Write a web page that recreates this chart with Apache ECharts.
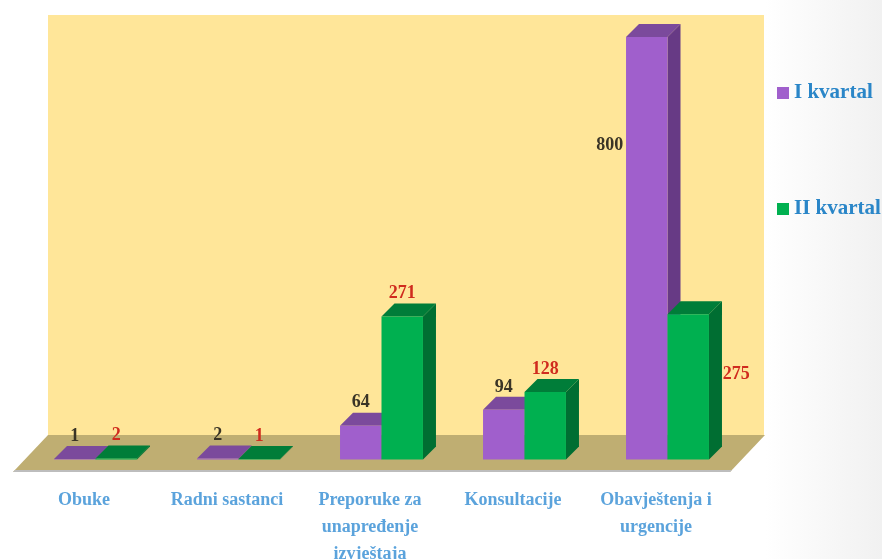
<!DOCTYPE html>
<html>
<head>
<meta charset="utf-8">
<style>html,body{margin:0;padding:0;background:#fff;overflow:hidden}#c{width:882px;height:559px}</style>
<script src="https://cdn.jsdelivr.net/npm/echarts@6/dist/echarts.min.js"></script>
</head>
<body>
<div id="c"></div>
<script>
const categories = ['Obuke', 'Radni sastanci', 'Preporuke za\nunapređenje\nizvještaja', 'Konsultacije', 'Obavještenja i\nurgencije'];
const seriesNames = ['I kvartal', 'II kvartal'];
const kvartal1 = [1, 2, 64, 94, 800];
const kvartal2 = [2, 1, 271, 128, 275];

const chart = echarts.init(document.getElementById('c'), null, {renderer: 'canvas'});
const DX = 13, DY = -13;
const faces = [
  {front: '#A05FCC', top: '#7B4A9C', side: '#673A85', label: '#3A3426'},
  {front: '#00B050', top: '#007D39', side: '#006E32', label: '#D02B1E'}
];
// label anchors that sit away from their bar: [series, category, dx, dy from bar top]
const labelShift = {'0-4': [-37, 108], '1-4': [48, 60]};

function render3d(si) {
  return function (params, api) {
    const i = api.value(0);
    const base = api.coord([i, 0]);
    const top = api.coord([i, api.value(1)]);
    const w = api.size([1, 0])[0] * 0.29;
    const l = base[0] + (si === 0 ? -w : 0), r = l + w, b = base[1], t = top[1];
    const f = faces[si];
    const shift = labelShift[si + '-' + i];
    const lx = (l + r) / 2 + (shift ? shift[0] : 0);
    const ly = t + (shift ? shift[1] : -23);
    return {
      type: 'group',
      children: [
        {type: 'polygon', shape: {points: [[r, t], [r + DX, t + DY], [r + DX, b + DY], [r, b]]}, style: {fill: f.side}},
        {type: 'polygon', shape: {points: [[l, t], [l + DX, t + DY], [r + DX, t + DY], [r, t]]}, style: {fill: f.top}},
        {type: 'rect', shape: {x: l, y: t, width: w, height: b - t}, style: {fill: f.front}},
        {type: 'text', z2: 10, style: {
          text: String(api.value(1)), x: lx, y: ly, align: 'center', verticalAlign: 'middle',
          fill: f.label, font: 'bold 18px "Liberation Serif"'
        }}
      ]
    };
  };
}

chart.setOption({
  animation: false,
  graphic: [
    {type: 'rect', z: -3, shape: {x: 765, y: 0, width: 117, height: 559},
     style: {fill: new echarts.graphic.LinearGradient(0, 0, 1, 0, [{offset: 0, color: '#ffffff'}, {offset: 1, color: '#F1F1F1'}])}},
    {type: 'rect', z: -2, shape: {x: 48, y: 15, width: 716, height: 421}, style: {fill: '#FFE699'}},
    {type: 'polygon', z: -1, shape: {points: [[48, 435], [765, 435], [730, 472], [13, 472]]}, style: {fill: '#BFAE72'}},
    {type: 'polygon', z: -1, shape: {points: [[15, 470], [732, 470], [730, 472], [13, 472]]}, style: {fill: '#BDBDBD'}}
  ],
  grid: {left: 24, width: 715, top: 37, bottom: 99.5, outerBoundsMode: 'none'},
  xAxis: {
    type: 'category', data: categories,
    axisLine: {show: false}, axisTick: {show: false},
    axisLabel: {
      interval: 0, margin: 27, color: '#5BA3DC', fontFamily: 'Liberation Serif', fontWeight: 'bold',
      fontSize: 18, lineHeight: 27, padding: [0, 23, 0, 0], overflow: 'none', verticalAlign: 'top', hideOverlap: false
    }
  },
  yAxis: {type: 'value', min: 0, max: 800, show: false, splitLine: {show: false}},
  legend: {
    orient: 'vertical', left: 772, top: 76, itemGap: 92, itemWidth: 12, itemHeight: 12,
    selectedMode: false, icon: 'rect', data: seriesNames,
    textStyle: {color: '#2A86C8', fontFamily: 'Liberation Serif', fontWeight: 'bold', fontSize: 21, lineHeight: 24}
  },
  series: [
    {name: seriesNames[0], type: 'custom', clip: false, renderItem: render3d(0), itemStyle: {color: faces[0].front},
     encode: {x: 0, y: 1}, data: kvartal1.map((v, i) => [i, v])},
    {name: seriesNames[1], type: 'custom', clip: false, renderItem: render3d(1), itemStyle: {color: faces[1].front},
     encode: {x: 0, y: 1}, data: kvartal2.map((v, i) => [i, v])}
  ]
});
</script>
</body>
</html>
